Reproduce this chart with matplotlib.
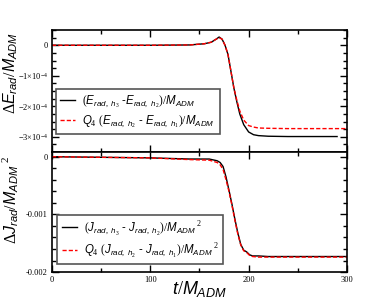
import matplotlib
matplotlib.use("Agg")
import matplotlib.pyplot as plt
from matplotlib.ticker import MultipleLocator, FixedLocator, FixedFormatter

plt.rcParams['mathtext.fontset'] = 'custom'
plt.rcParams['mathtext.rm'] = 'Liberation Serif'
plt.rcParams['mathtext.it'] = 'Liberation Sans:italic'
plt.rcParams['font.family'] = ['Liberation Sans', 'DejaVu Sans']

# energy difference (units of 1e-4)
t_e = [0, 100, 140, 155, 162, 167, 170, 173, 176, 179, 182, 185, 188, 191, 195, 200, 205, 210, 220, 240, 290]
e_h3h2 = [0, 0, 0.01, 0.05, 0.1, 0.2, 0.27, 0.2, 0.0, -0.3, -0.85, -1.4, -1.85, -2.25, -2.6, -2.84, -2.93, -2.96, -2.98, -2.99, -2.99]
t_e2 = [0, 100, 140, 155, 162, 167, 170, 173, 176, 179, 182, 185, 188, 191, 195, 200, 205, 210, 220, 240, 300]
e_q4 = [0, 0, 0.01, 0.05, 0.1, 0.2, 0.25, 0.2, 0.0, -0.3, -0.85, -1.4, -1.8, -2.15, -2.45, -2.63, -2.68, -2.71, -2.72, -2.73, -2.73]

# angular momentum difference
t_j = [0, 50, 100, 140, 160, 168, 171, 174, 177, 180, 183, 186, 189, 192, 195, 198, 201, 204, 210, 220, 250, 300]
j_h3h2 = [0, -0.00001, -0.00002, -0.00004, -0.00004, -0.00007, -0.0001, -0.00017, -0.00035, -0.00058, -0.00082, -0.00108, -0.00132, -0.00152, -0.00162, -0.00165, -0.0017, -0.00172, -0.00172, -0.00173, -0.00173, -0.00173]
j_q4 = [0, -0.00001, -0.00002, -0.00005, -0.00006, -0.0001, -0.00014, -0.00022, -0.0004, -0.0006, -0.00084, -0.0011, -0.00134, -0.00153, -0.00163, -0.00166, -0.00171, -0.00173, -0.00174, -0.00174, -0.00174, -0.00174]

fig = plt.figure(figsize=(3.92, 3.03), dpi=100)
ax1 = fig.add_axes([0.1327, 0.498, 0.7523, 0.403])
ax2 = fig.add_axes([0.1327, 0.102, 0.7523, 0.396])

ax1.plot(t_e, [v * 1e-4 for v in e_h3h2], color='black', lw=1.0,
         label=r'$\mathit{(E_{rad,\ h_3}}$ -$\mathit{E_{rad,\ h_2})/M_{ADM}}$')
ax1.plot(t_e2, [v * 1e-4 for v in e_q4], color='red', lw=1.0, ls=(0, (3, 1.5)),
         label=r'$\mathit{Q_4\ (E_{rad,\ h_2}}$ - $\mathit{E_{rad,\ h_1})/M_{ADM}}$')
ax2.plot(t_j, j_h3h2, color='black', lw=1.0,
         label=r'$\mathit{(J_{rad,\ h_3}}$ - $\mathit{J_{rad,\ h_2})/M_{ADM}}^{\ \mathit{2}}$')
ax2.plot(t_j, j_q4, color='red', lw=1.0, ls=(0, (3, 1.5)),
         label=r'$\mathit{Q_4\ (J_{rad,\ h_2}}$ - $\mathit{J_{rad,\ h_1})/M_{ADM}}^{\ \mathit{2}}$')

ax1.set_xlim(0, 300)
ax2.set_xlim(0, 300)
ax1.set_ylim(-3.5e-4, 0.5e-4)
ax2.set_ylim(-0.002, 0.00008)

ax1.yaxis.set_major_locator(FixedLocator([0, -1e-4, -2e-4, -3e-4]))
ax1.yaxis.set_major_formatter(FixedFormatter(['0', r'$\mathrm{-1{\times}10^{-4}}$',
                                              r'$\mathrm{-2{\times}10^{-4}}$', r'$\mathrm{-3{\times}10^{-4}}$']))
ax1.yaxis.set_minor_locator(MultipleLocator(0.25e-4))
ax2.yaxis.set_major_locator(FixedLocator([0, -0.001, -0.002]))
ax2.yaxis.set_major_formatter(FixedFormatter(['0', '-0.001', '-0.002']))
ax2.yaxis.set_minor_locator(MultipleLocator(0.0002))

for ax in (ax1, ax2):
    ax.xaxis.set_major_locator(MultipleLocator(100))
    ax.xaxis.set_minor_locator(MultipleLocator(50))
    ax.tick_params(which='both', direction='in', top=True, right=True, width=1.0)
    ax.tick_params(which='major', length=5, labelsize=6.0, pad=3)
    ax.tick_params(which='minor', length=3)
    for lab in ax.get_yticklabels() + ax.get_xticklabels():
        lab.set_family('Liberation Serif')
    for s in ax.spines.values():
        s.set_linewidth(1.2)
ax1.tick_params(labelbottom=False)

ax1.set_ylabel(r'$\Delta \mathit{E_{rad}/M_{ADM}}$', fontsize=11.5, va='center')
ax1.yaxis.set_label_coords(-0.141, 0.648)
ax2.set_ylabel(r'$\Delta \mathit{J_{rad}/M_{ADM}}^{\ \mathit{2}}$', fontsize=11.5, va='center')
ax2.yaxis.set_label_coords(-0.141, 0.6)
ax2.set_xlabel(r'$\mathit{t/M_{ADM}}$', fontsize=13, va='center')
ax2.xaxis.set_label_coords(0.5, -0.145)

for ax, loc in ((ax1, (0.005, 0.13)), (ax2, (0.01, 0.045))):
    leg = ax.legend(loc='lower left', bbox_to_anchor=loc, fontsize=8.3, fancybox=False,
                    framealpha=1, edgecolor='#555555', handlelength=1.3,
                    handletextpad=0.6, borderaxespad=0.2, labelspacing=0.35)
    leg.get_frame().set_linewidth(1.2)

fig.savefig('out.png', dpi=100)
